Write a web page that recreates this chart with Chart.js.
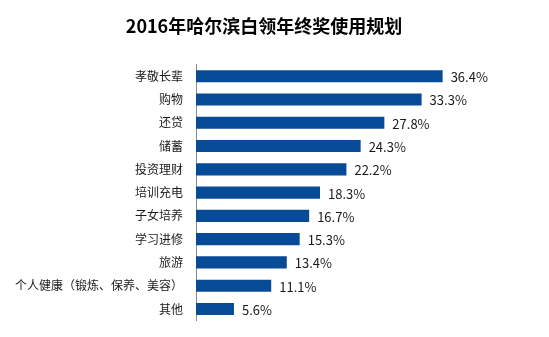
<!DOCTYPE html>
<html>
<head>
<meta charset="utf-8">
<script src="https://cdn.jsdelivr.net/npm/chart.js@4/dist/chart.umd.min.js"></script>
<style>
  html, body { margin: 0; padding: 0; background: #fff; }
  #wrap { width: 549px; height: 337px; }
</style>
</head>
<body>
<div id="wrap"><canvas id="c" width="549" height="337"></canvas></div>
<script>
const titleText = '2016年哈尔滨白领年终奖使用规划';
const categories = ['孝敬长辈', '购物', '还贷', '储蓄', '投资理财', '培训充电', '子女培养', '学习进修', '旅游', '个人健康（锻炼、保养、美容）', '其他'];
const shares = [36.4, 33.3, 27.8, 24.3, 22.2, 18.3, 16.7, 15.3, 13.4, 11.1, 5.6];

const fontFamily = '"Noto Sans CJK SC", "Microsoft YaHei", sans-serif';

// value labels at the end of each bar
const valueLabels = {
  id: 'valueLabels',
  afterDatasetsDraw(chart) {
    const ctx = chart.ctx;
    const meta = chart.getDatasetMeta(0);
    ctx.save();
    ctx.font = '13px ' + fontFamily;
    ctx.fillStyle = '#1a1a1a';
    ctx.textBaseline = 'middle';
    ctx.textAlign = 'left';
    meta.data.forEach((bar, i) => {
      ctx.fillText(shares[i].toFixed(1) + '%', bar.x + 8, bar.y + 1);
    });
    ctx.restore();
  }
};

new Chart(document.getElementById('c'), {
  type: 'bar',
  data: {
    labels: categories,
    datasets: [{
      data: shares,
      backgroundColor: '#074A96',
      barPercentage: 0.52,
      categoryPercentage: 1
    }]
  },
  options: {
    indexAxis: 'y',
    responsive: false,
    animation: false,
    layout: { padding: { top: 0, bottom: 16.4, left: 0, right: 21 } },
    scales: {
      x: { display: false, min: 0, max: 49 },
      y: {
        afterFit: (axis) => {
          axis.width = 196;
          axis.paddingTop = 0;
          axis.paddingBottom = 0;
        },
        grid: { display: false, drawTicks: false },
        border: { display: true, color: '#8c8c8c', width: 1 },
        ticks: { padding: 13, color: '#1a1a1a', font: { size: 12, family: fontFamily } }
      }
    },
    plugins: {
      legend: { display: false },
      tooltip: { enabled: false },
      title: {
        display: true,
        text: titleText,
        color: '#000',
        font: { size: 18, weight: 'bold', family: fontFamily },
        padding: { top: 15, bottom: 28 }
      }
    }
  },
  plugins: [valueLabels]
});
</script>
</body>
</html>
